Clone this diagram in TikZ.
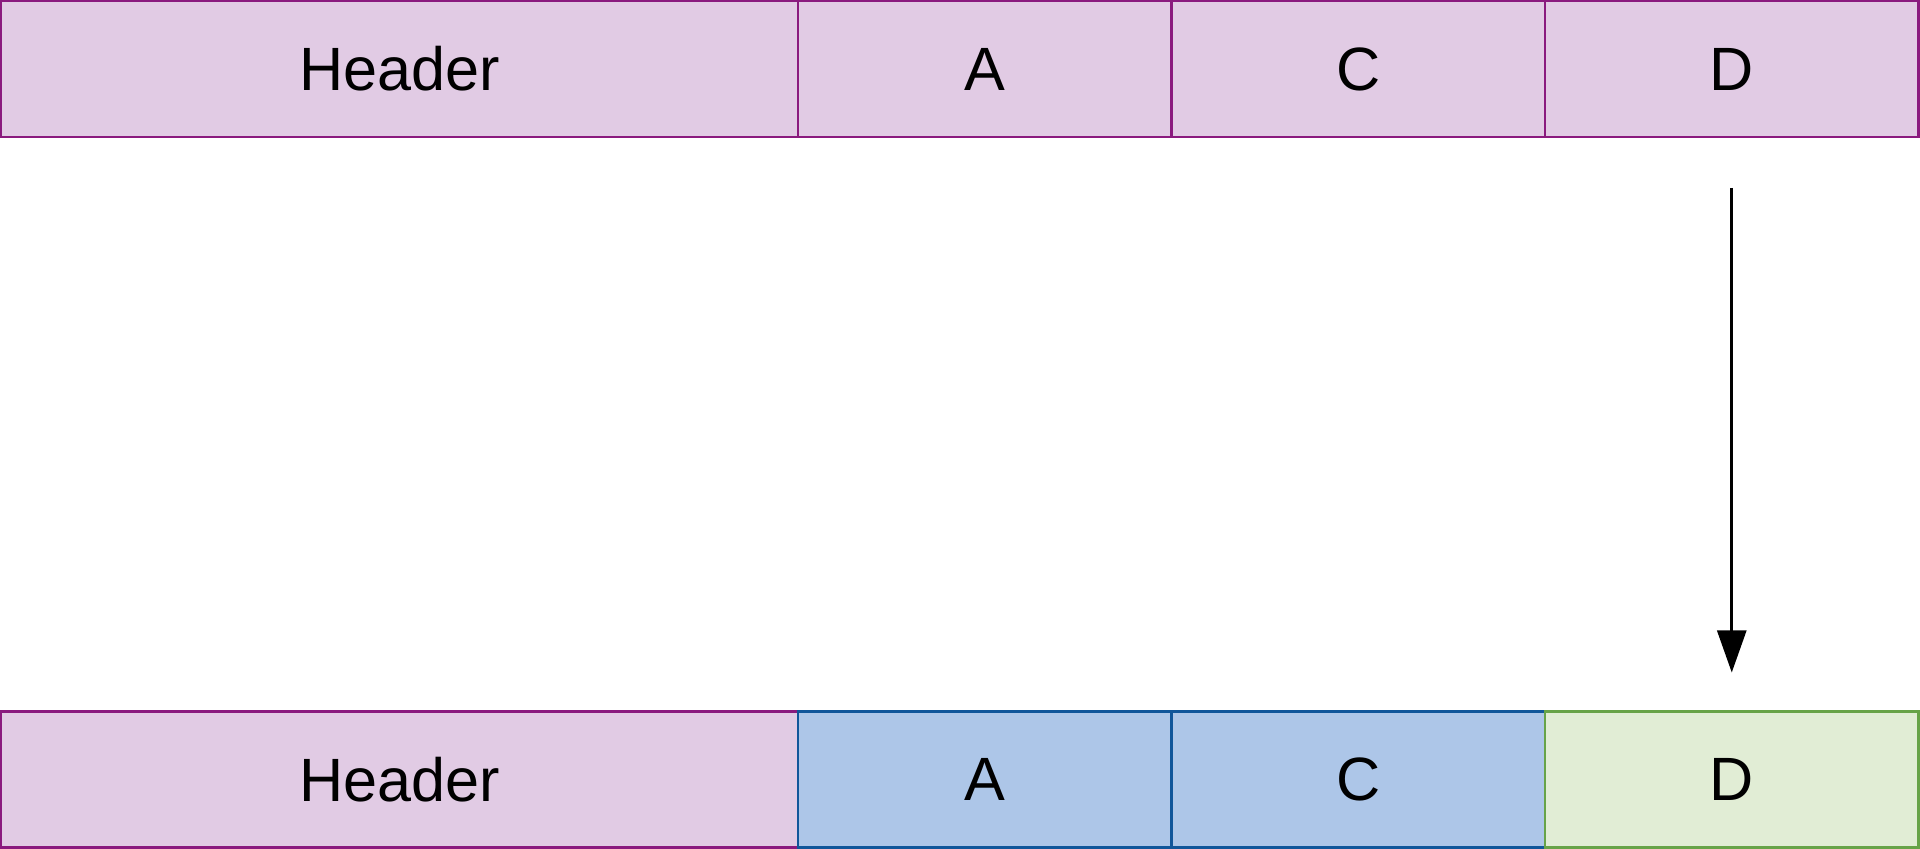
\documentclass[tikz,border=0pt]{standalone}
\usepackage{fontspec}
\setmainfont{Liberation Sans}
\usepackage{xcolor}
\usepackage{tikz}
\usetikzlibrary{arrows.meta,positioning}

\definecolor{purplefill}{HTML}{E1CBE4}
\definecolor{purpleline}{HTML}{8A1A7E}
\definecolor{bluefill}{HTML}{ADC6E8}
\definecolor{blueline}{HTML}{10569A}
\definecolor{greenfill}{HTML}{E1EDD5}
\definecolor{greenline}{HTML}{67A348}

\begin{document}
\begin{tikzpicture}[
  >={Triangle[width=2.9mm, length=4.2mm]},
  every node/.style={font=\fontsize{17.4}{21}\selectfont},
  cell/.style={rectangle, draw, line width=0.65pt, minimum height=13.6mm,
    outer sep=0pt, inner sep=0pt},
  headercell/.style={cell, minimum width=79.7mm, anchor=west},
  fieldcell/.style={cell, minimum width=37.35mm},
  oldfield/.style={draw=purpleline, fill=purplefill},
  movedfield/.style={draw=blueline, fill=bluefill},
  newfield/.style={draw=greenline, fill=greenfill}
]
  \useasboundingbox (0,0) rectangle (19.2,8.49);

  % packet before
  \node[headercell, oldfield] (hdrtop) at (0.01, 7.80) {Header};
  \node[fieldcell, oldfield, right=0pt of hdrtop] (atop) {A};
  \node[fieldcell, oldfield, right=0pt of atop] (ctop) {C};
  \node[fieldcell, oldfield, right=0pt of ctop] (dtop) {D};

  % packet after
  \node[headercell, oldfield] (hdrbot) at (0.01, 0.695) {Header};
  \node[fieldcell, movedfield, right=0pt of hdrbot] (abot) {A};
  \node[fieldcell, movedfield, right=0pt of abot] (cbot) {C};
  \node[fieldcell, newfield, right=0pt of cbot] (dbot) {D};

  \draw[->, line width=0.75pt] ([yshift=-5.1mm]dtop.south) -- ([yshift=3.9mm]dbot.north);
\end{tikzpicture}
\end{document}
